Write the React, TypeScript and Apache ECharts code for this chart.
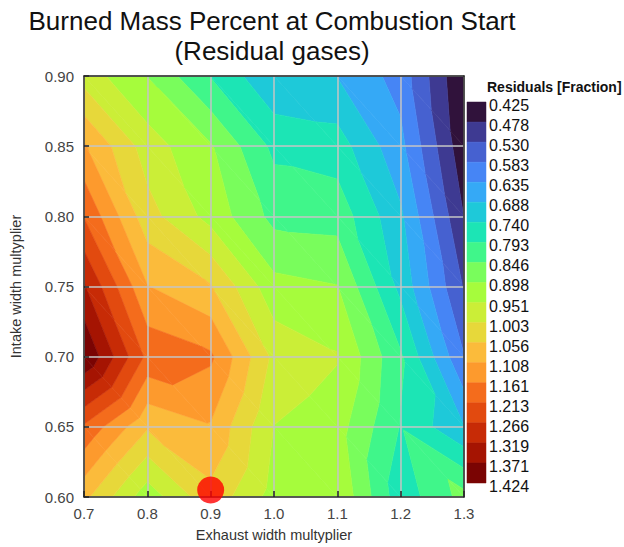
import { useEffect, useRef } from 'react';
import * as echarts from 'echarts';

// Exhaust / intake valve width multipliers of the simulated grid
const EXHAUST_WIDTH = [0.7, 0.8, 0.9, 1.0, 1.1, 1.2, 1.3];
const INTAKE_WIDTH = [0.6, 0.65, 0.7, 0.75, 0.8, 0.85, 0.9];

// Residual gas fraction, one row per intake width (0.60 .. 0.90),
// one column per exhaust width (0.7 .. 1.3)
const RESIDUALS_060 = [1.07, 0.92, 1.04, 0.93, 0.945, 0.76, 0.865];
const RESIDUALS_065 = [1.205, 1.062, 1.103, 0.95, 0.92, 0.79, 0.69];
const RESIDUALS_070 = [1.424, 1.2, 1.17, 0.99, 0.955, 0.8, 0.585];
const RESIDUALS_075 = [1.325, 1.11, 1.06, 0.915, 0.9, 0.725, 0.525];
const RESIDUALS_080 = [1.21, 1.024, 0.932, 0.83, 0.825, 0.697, 0.477];
const RESIDUALS_085 = [1.115, 0.977, 0.903, 0.78, 0.765, 0.65, 0.44];
const RESIDUALS_090 = [0.98, 0.897, 0.79, 0.693, 0.686, 0.614, 0.425];
const RESIDUALS = [
  RESIDUALS_060,
  RESIDUALS_065,
  RESIDUALS_070,
  RESIDUALS_075,
  RESIDUALS_080,
  RESIDUALS_085,
  RESIDUALS_090,
];

// Contour level boundaries shown on the colour bar
const LEVEL_LABELS = [
  '0.425', '0.478', '0.530', '0.583', '0.635', '0.688', '0.740', '0.793', '0.846', '0.898',
  '0.951', '1.003', '1.056', '1.108', '1.161', '1.213', '1.266', '1.319', '1.371', '1.424',
];

// Current design point
const DESIGN_POINT = [0.9, 0.605];

// Turbo-like fill for each band between two levels (low -> high)
const BAND_COLORS = [
  '#30123b', '#3e3a92', '#4661d0', '#4685f5', '#35a9f6', '#1ec9d9', '#1ce5b5', '#40f68a',
  '#79fd5c', '#a6fc3c', '#cbee37', '#e7d83a', '#fbbb3b', '#fd9a2d', '#f46c1c', '#e24a0f',
  '#c72b06', '#a51402', '#7a0403',
];

const LEVELS = LEVEL_LABELS.map(Number);
const FONT = "'Liberation Sans', Arial, Helvetica, sans-serif";

type Node = { x: number; y: number; v: number };

// Keep the part of a polygon where v >= t (keepAbove) or v <= t
function clipByLevel(pts: Node[], t: number, keepAbove: boolean): Node[] {
  if (!isFinite(t)) return pts;
  const out: Node[] = [];
  const inside = (p: Node) => (keepAbove ? p.v >= t : p.v <= t);
  for (let k = 0; k < pts.length; k++) {
    const a = pts[k];
    const b = pts[(k + 1) % pts.length];
    const ia = inside(a);
    const ib = inside(b);
    if (ia) out.push(a);
    if (ia !== ib) {
      const s = (t - a.v) / (b.v - a.v);
      out.push({ x: a.x + s * (b.x - a.x), y: a.y + s * (b.y - a.y), v: t });
    }
  }
  return out;
}

export default function App() {
  const ref = useRef<HTMLDivElement>(null);

  useEffect(() => {
    document.body.style.margin = '0';
    const chart = echarts.init(ref.current as HTMLDivElement, null, { renderer: 'svg' });

    const cells: number[][] = [];
    for (let j = 0; j < INTAKE_WIDTH.length - 1; j++) {
      for (let i = 0; i < EXHAUST_WIDTH.length - 1; i++) {
        cells.push([EXHAUST_WIDTH[i], INTAKE_WIDTH[j], i, j]);
      }
    }
    const bands = BAND_COLORS.map((_, k) => [0, k]);

    const nBands = BAND_COLORS.length;

    // Filled contour bands of one grid cell, split into two linear triangles
    const renderCell = (_params: any, api: any) => {
      const i = api.value(2) as number;
      const j = api.value(3) as number;
      const node = (ii: number, jj: number): Node => ({
        x: EXHAUST_WIDTH[ii],
        y: INTAKE_WIDTH[jj],
        v: RESIDUALS[jj][ii],
      });
      const a = node(i, j);
      const b = node(i + 1, j);
      const c = node(i, j + 1);
      const d = node(i + 1, j + 1);
      const tris = [
        [a, b, c],
        [b, d, c],
      ];
      const children: any[] = [];
      for (const tri of tris) {
        const vmin = Math.min(...tri.map((p) => p.v));
        const vmax = Math.max(...tri.map((p) => p.v));
        for (let k = 0; k < nBands; k++) {
          const lo = k === 0 ? -Infinity : LEVELS[k];
          const hi = k === nBands - 1 ? Infinity : LEVELS[k + 1];
          if (vmax < lo || vmin > hi) continue;
          let poly = clipByLevel(tri, lo, true);
          poly = clipByLevel(poly, hi, false);
          if (poly.length < 3) continue;
          children.push({
            type: 'polygon',
            shape: { points: poly.map((p) => api.coord([p.x, p.y])) },
            style: { fill: BAND_COLORS[k], stroke: BAND_COLORS[k], lineWidth: 0.6 },
          });
        }
      }
      return { type: 'group', children };
    };

    // One block of the colour bar
    const renderBand = (_params: any, api: any) => {
      const k = api.value(1) as number;
      const p0 = api.coord([0, k]);
      const p1 = api.coord([1, k + 1]);
      return {
        type: 'rect',
        shape: { x: p0[0], y: p0[1], width: p1[0] - p0[0], height: p1[1] - p0[1] },
        style: { fill: BAND_COLORS[k], stroke: BAND_COLORS[k], lineWidth: 0.5 },
      };
    };

    const borderAxis = {
      gridIndex: 0,
      type: 'value' as const,
      z: 6,
      axisLine: { show: true, onZero: false, lineStyle: { color: '#2a2a2a', width: 1.5 } },
      axisTick: { show: false },
      axisLabel: { show: false },
      splitLine: { show: false },
    };

    chart.setOption({
      animation: false,
      backgroundColor: '#ffffff',
      textStyle: { fontFamily: FONT },
      graphic: [
        {
          type: 'text',
          x: 272,
          y: 6,
          style: {
            text: 'Burned Mass Percent at Combustion Start\n(Residual gases)',
            align: 'center',
            verticalAlign: 'top',
            fontSize: 26,
            lineHeight: 30,
            fontFamily: FONT,
            fill: '#111111',
          },
        },
        {
          type: 'text',
          x: 487,
          y: 87,
          style: {
            text: 'Residuals [Fraction]',
            align: 'left',
            verticalAlign: 'middle',
            fontSize: 14,
            fontWeight: 'bold',
            fontFamily: FONT,
            fill: '#111111',
          },
        },
      ],
      grid: [
        { left: 83, top: 76, width: 381, height: 424 },
        { left: 467, top: 102, width: 19, height: 381 },
      ],
      xAxis: [
        {
          gridIndex: 0,
          type: 'value',
          min: 0.7,
          max: 1.3,
          interval: 0.1,
          position: 'bottom',
          z: 5,
          name: 'Exhaust width multyplier',
          nameLocation: 'middle',
          nameGap: 30,
          nameTextStyle: { fontSize: 14.5, color: '#333333' },
          axisLine: { show: true, onZero: false, lineStyle: { color: '#333333', width: 1.5 } },
          axisTick: { show: true, inside: true, length: 6, lineStyle: { color: '#222222', width: 1.5 } },
          axisLabel: {
            fontSize: 15,
            color: '#444444',
            margin: 9,
            formatter: (v: number) => v.toFixed(1),
          },
          splitLine: { show: true, lineStyle: { color: '#c4c4c4', width: 1.5 } },
        },
        { ...borderAxis, min: 0.7, max: 1.3, position: 'top' },
        { gridIndex: 1, type: 'value', min: 0, max: 1, show: false },
      ],
      yAxis: [
        {
          gridIndex: 0,
          type: 'value',
          min: 0.6,
          max: 0.9,
          interval: 0.05,
          position: 'left',
          z: 5,
          name: 'Intake width multyplier',
          nameLocation: 'middle',
          nameGap: 61,
          nameTextStyle: { fontSize: 14.5, color: '#333333' },
          axisLine: { show: true, onZero: false, lineStyle: { color: '#333333', width: 1.5 } },
          axisTick: { show: true, inside: true, length: 5, lineStyle: { color: '#222222', width: 1.5 } },
          axisLabel: {
            fontSize: 15,
            color: '#444444',
            margin: 10,
            formatter: (v: number) => v.toFixed(2),
          },
          splitLine: { show: true, lineStyle: { color: '#c4c4c4', width: 1.5 } },
        },
        { ...borderAxis, min: 0.6, max: 0.9, position: 'right' },
        {
          gridIndex: 1,
          type: 'value',
          min: 0,
          max: LEVEL_LABELS.length - 1,
          interval: 1,
          inverse: true,
          position: 'right',
          axisLine: { show: false },
          axisTick: { show: false },
          splitLine: { show: false },
          axisLabel: {
            margin: 3,
            formatter: (v: number) => `{lvl|${LEVEL_LABELS[Math.round(v)]}}`,
            rich: {
              lvl: {
                fontSize: 16,
                color: '#111111',
                fontFamily: FONT,
                padding: [7, 0, 0, 0],
              },
            },
          },
        },
      ],
      series: [
        {
          type: 'custom',
          name: 'Residuals',
          xAxisIndex: 0,
          yAxisIndex: 0,
          coordinateSystem: 'cartesian2d',
          silent: true,
          clip: true,
          data: cells,
          encode: { x: 0, y: 1 },
          renderItem: renderCell,
          z: 2,
        },
        {
          type: 'custom',
          name: 'Colour bar',
          xAxisIndex: 2,
          yAxisIndex: 2,
          coordinateSystem: 'cartesian2d',
          silent: true,
          data: bands,
          encode: { x: 0, y: 1 },
          renderItem: renderBand,
        },
        {
          type: 'scatter',
          name: 'Design point',
          xAxisIndex: 0,
          yAxisIndex: 0,
          data: [DESIGN_POINT],
          symbol: 'circle',
          symbolSize: 27,
          clip: false,
          silent: true,
          itemStyle: { color: '#ff0000' },
          z: 10,
        },
      ],
    });

    return () => chart.dispose();
  }, []);

  return <div ref={ref} style={{ width: 624, height: 547 }} />;
}
